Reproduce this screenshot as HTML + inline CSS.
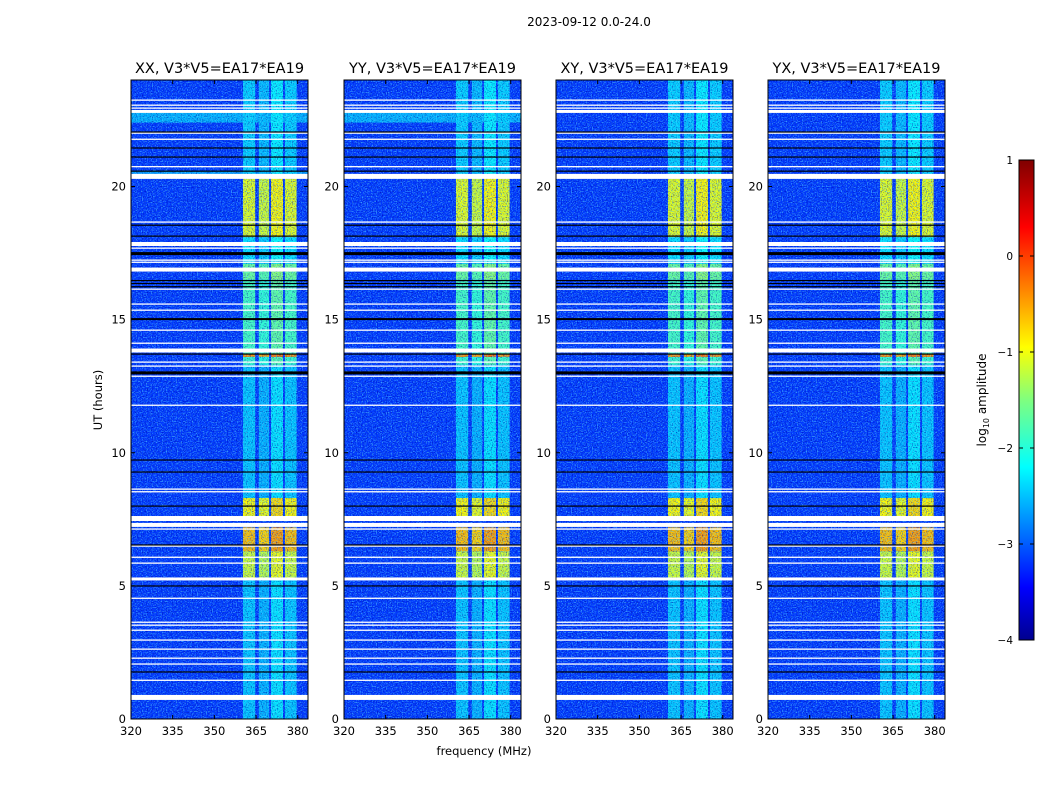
<!DOCTYPE html>
<html><head><meta charset="utf-8"><style>
body{margin:0;background:#fff;font-family:"DejaVu Sans",sans-serif}
svg text{font-family:"DejaVu Sans","Liberation Sans",sans-serif;fill:#000}
</style></head><body>
<svg id="fig" width="1050" height="800" xmlns="http://www.w3.org/2000/svg">
<defs>
<filter id="nzd" x="0" y="0" width="100%" height="100%"><feTurbulence type="fractalNoise" baseFrequency="0.8" numOctaves="1" seed="3"/><feColorMatrix type="matrix" values="0 0 0 0 0  0 0 0 0 0  0 0 0 0 0.35  2.0 0 0 0 -0.95"/></filter>
<filter id="nzl" x="0" y="0" width="100%" height="100%"><feTurbulence type="fractalNoise" baseFrequency="0.8" numOctaves="1" seed="11"/><feColorMatrix type="matrix" values="0 0 0 0 0.1  0 0 0 0 0.7  0 0 0 0 1  2.2 0 0 0 -1.05"/></filter>
<linearGradient id="jet" x1="0" y1="1" x2="0" y2="0">
<stop offset="0" stop-color="#00008f"/><stop offset="0.11" stop-color="#0000ff"/><stop offset="0.36" stop-color="#00ffff"/><stop offset="0.5" stop-color="#7fff7f"/><stop offset="0.61" stop-color="#ffff00"/><stop offset="0.86" stop-color="#ff0000"/><stop offset="1" stop-color="#800000"/></linearGradient>
</defs>
<text x="589" y="26" font-size="12" text-anchor="middle">2023-09-12 0.0-24.0</text>
<text x="484" y="755" font-size="11.5" text-anchor="middle">frequency (MHz)</text>
<text transform="translate(102,400) rotate(-90)" font-size="11.5" text-anchor="middle">UT (hours)</text>
<g id="panels"></g>
<g id="cbar"></g>
</svg>
<script>
const panelTitles=["XX, V3*V5=EA17*EA19","YY, V3*V5=EA17*EA19","XY, V3*V5=EA17*EA19","YX, V3*V5=EA17*EA19"];
const xTicks=[320,335,350,365,380];
const yTicks=[0,5,10,15,20];
const cbarTicks=[1,0,-1,-2,-3,-4];
const bandLo=[360.3,366.0,370.4,375.4];
const bandHi=[364.7,369.7,374.7,379.6];
const bandOffset=[0,-0.1,0.15,0];
const segStart=[0,5.3,6.3,7.6,8.3,13.3,13.6,13.7,16.5,17.1,18.1,20.3];
const segEnd=[5.3,6.3,7.2,8.3,13.3,13.6,13.75,16.5,17.1,18.1,20.3,24];
const segValue=[-2.4,-1.1,-0.55,-0.85,-2.4,-1.85,-0.35,-1.8,-1.6,-2.25,-1.0,-2.35];
const backgroundValue=-3.1;
const stripStart=[22.4,20.35];
const stripEnd=[22.8,20.6];
const stripValue=[-2.5,-2.6];
const stripPanels=[[0,1],[0]];
const whiteRows=[23.25,23.06,22.95,22.82,22.01,21.78,20.75,20.38,18.67,17.84,17.69,17.24,17.16,16.88,16.15,15.59,15.36,14.61,14.12,13.84,13.41,13.26,12.88,11.79,8.64,8.54,7.53,7.29,7.14,6.50,6.08,5.86,5.26,4.54,3.64,3.53,3.34,2.97,2.63,2.29,2.07,1.46,0.81];
const whiteThick=[1,1,1,3,1,1,1,5,1,4,1,1,1,4,1,1,1,1,1,4,1,1,1,1,1,1,5,4,1,1,1,1,3,1,1,1,1,1,1,1,1,1,5];
const blackRows=[22.05,21.45,21.11,20.58,18.55,18.14,17.48,16.47,16.36,16.24,15.02,13.71,13.0,9.73,9.28,8.0,6.54,5.0,1.77];
const blackThick=[1,1,1,1,1,1,3,1,1,1,2,1,3,1,1,1,1,1,1];

const panelX=[131,344,556,768], PW=177, PT=80, PB=719;
const F0=320,F1=383.7,T0=0,T1=24;
function jet(v){let t=Math.max(0,Math.min(1,(v+4)/5));
 const r=Math.min(4*t-1.5,-4*t+4.5),g=Math.min(4*t-0.5,-4*t+3.5),b=Math.min(4*t+0.5,-4*t+2.5);
 const c=x=>Math.round(255*Math.max(0,Math.min(1,x)));return `rgb(${c(r)},${c(g)},${c(b)})`;}
const NS="http://www.w3.org/2000/svg";
function el(tag,attrs,parent){const e=document.createElementNS(NS,tag);for(const k in attrs)e.setAttribute(k,attrs[k]);parent.appendChild(e);return e;}
const root=document.getElementById('panels');
panelX.forEach((px,pi)=>{
 const xs=f=>px+(f-F0)/(F1-F0)*PW;
 const ys=h=>PB-(h-T0)/(T1-T0)*(PB-PT);
 const g=el('g',{},root);
 
 
 const bg=el('rect',{x:px,y:PT,width:PW,height:PB-PT,fill:jet(backgroundValue)},g);
 
 
 stripStart.forEach((s,i)=>{ if(!stripPanels[i].includes(pi))return;
  const r=el('rect',{x:px,y:ys(stripEnd[i]),width:PW,height:ys(s)-ys(stripEnd[i]),fill:jet(stripValue[i])},g);
  
  });
 bandLo.forEach((lo,bi)=>{segStart.forEach((s,si)=>{
  const r=el('rect',{x:xs(lo),y:ys(segEnd[si]),width:xs(bandHi[bi])-xs(lo),height:ys(s)-ys(segEnd[si]),fill:jet(segValue[si]+bandOffset[bi])},g);
  
  });});
 el('rect',{x:px,y:PT,width:PW,height:PB-PT,filter:'url(#nzd)'},g);
 el('rect',{x:px,y:PT,width:PW,height:PB-PT,filter:'url(#nzl)'},g);
 whiteRows.forEach((h,i)=>{const r=el('rect',{x:px,y:ys(h)-whiteThick[i]/2,width:PW,height:Math.max(1.3,whiteThick[i]),fill:'#fff'},g);
  
  });
 blackRows.forEach((h,i)=>{const r=el('rect',{x:px,y:ys(h)-blackThick[i]/2,width:PW,height:Math.max(1.2,blackThick[i]),fill:'#000'},g);
  
  });
 el('rect',{x:px,y:PT,width:PW,height:PB-PT,fill:'none',stroke:'#000','stroke-width':1},g);
 const t=el('text',{x:px+PW/2,y:PT-7,'font-size':14.5,'text-anchor':'middle'},g);t.textContent=panelTitles[pi];
 
 
 xTicks.forEach(v=>{const x=xs(v);el('line',{x1:x,x2:x,y1:PB,y2:PB-4,stroke:'#000'},g);el('line',{x1:x,x2:x,y1:PT,y2:PT+4,stroke:'#000'},g);
  const tx=el('text',{x:x,y:PB+16,'font-size':11.5,'text-anchor':'middle'},g);tx.textContent=v;
  
  });
 yTicks.forEach(v=>{const y=ys(v);el('line',{x1:px,x2:px+4,y1:y,y2:y,stroke:'#000'},g);el('line',{x1:px+PW,x2:px+PW-4,y1:y,y2:y,stroke:'#000'},g);
  const tx=el('text',{x:px-5,y:y+4,'font-size':11.5,'text-anchor':'end'},g);tx.textContent=v;
  
  });
});
const cb=document.getElementById('cbar');
const CX=1019,CW=15,CT=160,CB=640;
el('rect',{x:CX,y:CT,width:CW,height:CB-CT,fill:'url(#jet)',stroke:'#000','stroke-width':1},cb);
cbarTicks.forEach(v=>{const y=CB-(v+4)/5*(CB-CT);
 el('line',{x1:CX,x2:CX+4,y1:y,y2:y,stroke:'#000'},cb);el('line',{x1:CX+CW,x2:CX+CW-4,y1:y,y2:y,stroke:'#000'},cb);
 const tx=el('text',{x:CX-6,y:y+4,'font-size':10.5,'text-anchor':'end'},cb);tx.textContent=v<0?'\u2212'+(-v):v;
 
 });
const lab=el('text',{transform:'translate(986,400) rotate(-90)','font-size':12,'text-anchor':'middle'},cb);
lab.innerHTML='log<tspan font-size="8" dy="3">10</tspan><tspan dy="-3"> amplitude</tspan>';


</script>
</body></html>
